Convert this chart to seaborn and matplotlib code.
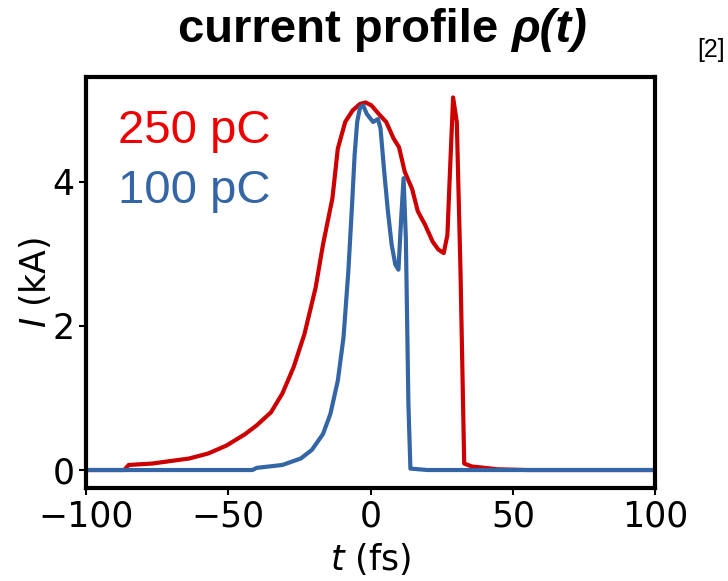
import numpy as np
import pandas as pd
import matplotlib
matplotlib.use("Agg")
import matplotlib.pyplot as plt
import seaborn as sns

# 250 pC profile (t in fs, I in kA)
t_250 = [-100, -86.5, -85, -76.7, -63.7, -57, -50.6, -44, -40, -35, -31, -27, -23.2,
         -19.3, -16.7, -13.4, -11.5, -8.9, -6.3, -3.7, -1.7, 0.3, 2.9, 5.5, 8.1, 10,
         12, 14.6, 16.6, 19.2, 21.8, 23.8, 25.7, 27, 27.9, 29, 30.3, 31.6, 32.9, 35.5,
         44.6, 55, 100]
I_250 = [0, 0, 0.07, 0.09, 0.16, 0.23, 0.34, 0.5, 0.62, 0.8, 1.06, 1.43, 1.89,
         2.53, 3.13, 3.77, 4.46, 4.83, 4.99, 5.08, 5.10, 5.06, 4.94, 4.83, 4.6, 4.48,
         4.14, 3.9, 3.59, 3.4, 3.17, 3.06, 3.01, 3.26, 4.14, 5.17, 4.83, 2.76, 0.09, 0.05,
         0.01, 0, 0]

# 100 pC profile
t_100 = [-100, -41.5, -40, -31, -24.5, -20.6, -16.7, -14.1, -11.5, -9.5, -7.8, -6.5,
         -5.6, -4.7, -3.7, -2.6, -1.3, 0.9, 2.6, 3.5, 4.8, 6.1, 7.4, 8.7, 9.8, 10.7,
         11.6, 12.4, 13.3, 14, 20, 100]
I_100 = [0, 0, 0.03, 0.07, 0.16, 0.28, 0.5, 0.78, 1.24, 1.84, 2.76, 3.68,
         4.37, 4.83, 5.03, 5.06, 4.94, 4.83, 4.87, 4.74, 4.14, 3.59, 3.13, 2.85, 2.78, 3.45,
         4.05, 3.22, 0.92, 0.02, 0, 0]

x_ticks = [-100, -50, 0, 50, 100]
y_ticks = [0, 2, 4]

df = pd.concat([
    pd.DataFrame({"t": t_250, "I": I_250, "charge": "250 pC"}),
    pd.DataFrame({"t": t_100, "I": I_100, "charge": "100 pC"}),
])

sns.set_theme(style="white")
plt.rcParams["font.family"] = ["DejaVu Sans"]
plt.rcParams["text.color"] = "black"
plt.rcParams["axes.labelcolor"] = "black"
plt.rcParams["xtick.color"] = "black"
plt.rcParams["ytick.color"] = "black"

fig = plt.figure(figsize=(7.28, 5.81), dpi=100)
ax = fig.add_axes([0.118, 0.16, 0.782, 0.707])

colors = {"250 pC": "#cc0000", "100 pC": "#3465a4"}
sns.lineplot(data=df, x="t", y="I", hue="charge", palette=colors, linewidth=3,
             ax=ax, legend=False, sort=False)

ax.set_xlim(-100, 100)
ax.set_ylim(-0.25, 5.45)
ax.set_xticks(x_ticks)
ax.set_yticks(y_ticks)
ax.set_xticklabels([str(v).replace("-", "\u2212") for v in x_ticks])
ax.tick_params(axis="both", labelsize=25, length=5, width=1.5, direction="out",
               bottom=True, left=True, colors="black", pad=3)
for s in ax.spines.values():
    s.set_color("black")
    s.set_linewidth(3)

ax.set_xlabel("$t$ (fs)", fontsize=25, labelpad=6)
ax.set_ylabel("$I$ (kA)", fontsize=25, labelpad=0)

ax.text(0.057, 0.84, "250 pC", transform=ax.transAxes, fontsize=34,
        color="#ee0000", family="Liberation Sans")
ax.text(0.057, 0.695, "100 pC", transform=ax.transAxes, fontsize=34,
        color="#3465a4", family="Liberation Sans")

t1 = fig.text(0.2445, 0.927, "current profile ", fontsize=34, fontweight="bold",
              ha="left", va="baseline", family="Liberation Sans")
fig.canvas.draw()
bb = t1.get_window_extent(renderer=fig.canvas.get_renderer())
x_end = bb.x1 / fig.bbox.width
fig.text(x_end, 0.927, "\u03c1(t)", fontsize=34, fontweight="bold", style="italic",
         ha="left", va="baseline", family="Liberation Sans")
fig.text(0.996, 0.914, "[2]", fontsize=18, ha="right", va="center",
         family="Liberation Sans")

fig.savefig("out.png", dpi=100)
